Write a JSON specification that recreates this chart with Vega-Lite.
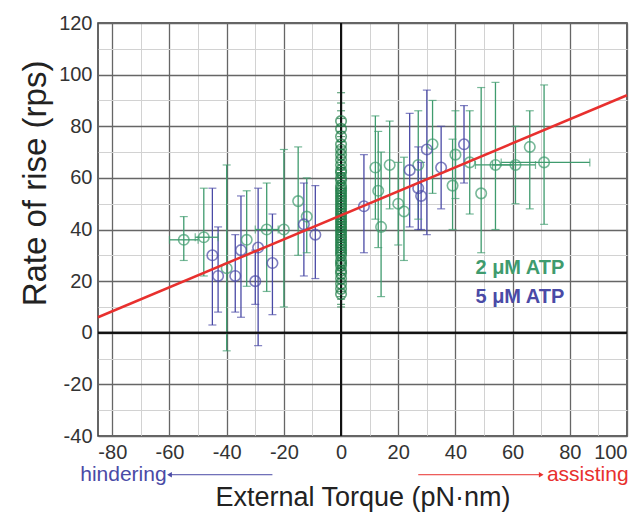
{
  "$schema": "https://vega.github.io/schema/vega-lite/v6.json",
  "width": 529,
  "height": 413,
  "autosize": "none",
  "padding": {"left": 98, "top": 23, "right": 16, "bottom": 80},
  "background": "white",
  "config": {
    "view": {"stroke": "#333333", "strokeWidth": 1.5},
    "axis": {
      "labelFont": "Liberation Sans",
      "labelFontSize": 20,
      "labelColor": "#333333",
      "titleFont": "Liberation Sans",
      "titleFontWeight": "normal",
      "titleColor": "#222222",
      "ticks": false,
      "domain": false,
      "gridOpacity": 1
    }
  },
  "datasets": {
    "pts": [
      {"s": "2 μM ATP", "x": -55, "y": 36, "ylo": 28, "yhi": 45, "xlo": -60, "xhi": -50},
      {"s": "2 μM ATP", "x": -48, "y": 37, "ylo": 22, "yhi": 56, "xlo": -51, "xhi": -43},
      {"s": "2 μM ATP", "x": -40, "y": 25, "ylo": -7, "yhi": 65},
      {"s": "2 μM ATP", "x": -33, "y": 36, "ylo": 18, "yhi": 55},
      {"s": "2 μM ATP", "x": -26, "y": 40, "ylo": 16, "yhi": 58, "xlo": -30, "xhi": -22},
      {"s": "2 μM ATP", "x": -20, "y": 40, "ylo": 10, "yhi": 71},
      {"s": "2 μM ATP", "x": -15, "y": 51, "ylo": 30, "yhi": 72},
      {"s": "2 μM ATP", "x": -12, "y": 45, "ylo": 31, "yhi": 60},
      {"s": "2 μM ATP", "x": 12, "y": 64, "ylo": 44, "yhi": 84},
      {"s": "2 μM ATP", "x": 13, "y": 55, "ylo": 33, "yhi": 78},
      {"s": "2 μM ATP", "x": 14, "y": 41, "ylo": 14, "yhi": 70},
      {"s": "2 μM ATP", "x": 17, "y": 65, "ylo": 48, "yhi": 82},
      {"s": "2 μM ATP", "x": 20, "y": 50, "ylo": 34, "yhi": 66},
      {"s": "2 μM ATP", "x": 22, "y": 47, "ylo": 28, "yhi": 68},
      {"s": "2 μM ATP", "x": 27, "y": 65, "ylo": 44, "yhi": 86},
      {"s": "2 μM ATP", "x": 32, "y": 73, "ylo": 54, "yhi": 90},
      {"s": "2 μM ATP", "x": 39, "y": 57, "ylo": 40, "yhi": 75},
      {"s": "2 μM ATP", "x": 40, "y": 69, "ylo": 52, "yhi": 86},
      {"s": "2 μM ATP", "x": 45, "y": 66, "ylo": 46, "yhi": 86},
      {"s": "2 μM ATP", "x": 49, "y": 54, "ylo": 31, "yhi": 95},
      {"s": "2 μM ATP", "x": 54, "y": 65, "ylo": 40, "yhi": 97, "xlo": 47, "xhi": 60},
      {"s": "2 μM ATP", "x": 61, "y": 65, "ylo": 50, "yhi": 80, "xlo": 53, "xhi": 68},
      {"s": "2 μM ATP", "x": 66, "y": 72, "ylo": 48, "yhi": 86},
      {"s": "2 μM ATP", "x": 71, "y": 66, "ylo": 42, "yhi": 96, "xlo": 56, "xhi": 87},
      {"s": "zero", "x": 0, "y": 15, "ylo": 10, "yhi": 21},
      {"s": "zero", "x": 0, "y": 17, "ylo": 11, "yhi": 23},
      {"s": "zero", "x": 0, "y": 19, "ylo": 13, "yhi": 26},
      {"s": "zero", "x": 0, "y": 21, "ylo": 14, "yhi": 28},
      {"s": "zero", "x": 0, "y": 23, "ylo": 16, "yhi": 30},
      {"s": "zero", "x": 0, "y": 24, "ylo": 17, "yhi": 31},
      {"s": "zero", "x": 0, "y": 26, "ylo": 19, "yhi": 33},
      {"s": "zero", "x": 0, "y": 27, "ylo": 20, "yhi": 35},
      {"s": "zero", "x": 0, "y": 28, "ylo": 21, "yhi": 36},
      {"s": "zero", "x": 0, "y": 30, "ylo": 23, "yhi": 38},
      {"s": "zero", "x": 0, "y": 31, "ylo": 24, "yhi": 39},
      {"s": "zero", "x": 0, "y": 32, "ylo": 25, "yhi": 40},
      {"s": "zero", "x": 0, "y": 33, "ylo": 25, "yhi": 41},
      {"s": "zero", "x": 0, "y": 34, "ylo": 26, "yhi": 42},
      {"s": "zero", "x": 0, "y": 35, "ylo": 27, "yhi": 43},
      {"s": "zero", "x": 0, "y": 36, "ylo": 28, "yhi": 44},
      {"s": "zero", "x": 0, "y": 37, "ylo": 29, "yhi": 45},
      {"s": "zero", "x": 0, "y": 38, "ylo": 30, "yhi": 46},
      {"s": "zero", "x": 0, "y": 39, "ylo": 31, "yhi": 48},
      {"s": "zero", "x": 0, "y": 40, "ylo": 32, "yhi": 49},
      {"s": "zero", "x": 0, "y": 41, "ylo": 33, "yhi": 50},
      {"s": "zero", "x": 0, "y": 42, "ylo": 34, "yhi": 51},
      {"s": "zero", "x": 0, "y": 43, "ylo": 35, "yhi": 52},
      {"s": "zero", "x": 0, "y": 44, "ylo": 36, "yhi": 53},
      {"s": "zero", "x": 0, "y": 45, "ylo": 37, "yhi": 54},
      {"s": "zero", "x": 0, "y": 46, "ylo": 38, "yhi": 55},
      {"s": "zero", "x": 0, "y": 47, "ylo": 39, "yhi": 56},
      {"s": "zero", "x": 0, "y": 48, "ylo": 40, "yhi": 57},
      {"s": "zero", "x": 0, "y": 49, "ylo": 40, "yhi": 58},
      {"s": "zero", "x": 0, "y": 50, "ylo": 41, "yhi": 59},
      {"s": "zero", "x": 0, "y": 51, "ylo": 42, "yhi": 60},
      {"s": "zero", "x": 0, "y": 52, "ylo": 43, "yhi": 61},
      {"s": "zero", "x": 0, "y": 53, "ylo": 44, "yhi": 62},
      {"s": "zero", "x": 0, "y": 54, "ylo": 45, "yhi": 63},
      {"s": "zero", "x": 0, "y": 55, "ylo": 46, "yhi": 64},
      {"s": "zero", "x": 0, "y": 56, "ylo": 47, "yhi": 65},
      {"s": "zero", "x": 0, "y": 57, "ylo": 48, "yhi": 66},
      {"s": "zero", "x": 0, "y": 59, "ylo": 50, "yhi": 68},
      {"s": "zero", "x": 0, "y": 60, "ylo": 51, "yhi": 69},
      {"s": "zero", "x": 0, "y": 62, "ylo": 53, "yhi": 71},
      {"s": "zero", "x": 0, "y": 63, "ylo": 54, "yhi": 72},
      {"s": "zero", "x": 0, "y": 65, "ylo": 56, "yhi": 74},
      {"s": "zero", "x": 0, "y": 67, "ylo": 58, "yhi": 76},
      {"s": "zero", "x": 0, "y": 69, "ylo": 60, "yhi": 78},
      {"s": "zero", "x": 0, "y": 71, "ylo": 62, "yhi": 80},
      {"s": "zero", "x": 0, "y": 73, "ylo": 64, "yhi": 83},
      {"s": "zero", "x": 0, "y": 76, "ylo": 67, "yhi": 86},
      {"s": "zero", "x": 0, "y": 79, "ylo": 70, "yhi": 89},
      {"s": "zero", "x": 0, "y": 82, "ylo": 74, "yhi": 93},
      {"s": "5 μM ATP", "x": -45, "y": 30, "ylo": 3, "yhi": 56},
      {"s": "5 μM ATP", "x": -43, "y": 22, "ylo": 8, "yhi": 41},
      {"s": "5 μM ATP", "x": -37, "y": 22, "ylo": 8, "yhi": 38},
      {"s": "5 μM ATP", "x": -35, "y": 32, "ylo": 6, "yhi": 53},
      {"s": "5 μM ATP", "x": -29, "y": 33, "ylo": -5, "yhi": 56},
      {"s": "5 μM ATP", "x": -30, "y": 20, "ylo": 11, "yhi": 32},
      {"s": "5 μM ATP", "x": -24, "y": 27, "ylo": 7, "yhi": 46},
      {"s": "5 μM ATP", "x": -13, "y": 42, "ylo": 22, "yhi": 58},
      {"s": "5 μM ATP", "x": -9, "y": 38, "ylo": 21, "yhi": 57},
      {"s": "5 μM ATP", "x": 8, "y": 49, "ylo": 31, "yhi": 69},
      {"s": "5 μM ATP", "x": 24, "y": 63, "ylo": 41, "yhi": 85},
      {"s": "5 μM ATP", "x": 27, "y": 56, "ylo": 40, "yhi": 72},
      {"s": "5 μM ATP", "x": 28, "y": 53, "ylo": 40, "yhi": 66},
      {"s": "5 μM ATP", "x": 30, "y": 71, "ylo": 38, "yhi": 94},
      {"s": "5 μM ATP", "x": 35, "y": 64, "ylo": 48, "yhi": 80},
      {"s": "5 μM ATP", "x": 43, "y": 73, "ylo": 58, "yhi": 88}
    ],
    "fit": [{"x": -85, "y": 6}, {"x": 100, "y": 92}]
  },
  "resolve": {"axis": {"x": "independent", "y": "independent"}},
  "layer": [
    {
      "data": {"values": [{"x": 0}]},
      "mark": {"type": "rule", "color": "#111111", "strokeWidth": 2},
      "encoding": {"x": {"field": "x", "type": "quantitative", "scale": {"domain": [-85, 100], "nice": false, "zero": false},
        "axis": {"orient": "bottom", "grid": true, "values": [-70, -50, -30, -10, 10, 30, 50, 70, 90], "labels": false, "title": null,
          "gridColor": "#d2d2d2", "gridWidth": 1}}}
    },
    {
      "data": {"values": [{"y": 0}]},
      "mark": {"type": "rule", "color": "#111111", "strokeWidth": 2},
      "encoding": {"y": {"field": "y", "type": "quantitative", "scale": {"domain": [-40, 120], "nice": false, "zero": false},
        "axis": {"orient": "left", "grid": true, "values": [-30, -10, 10, 30, 50, 70, 90, 110], "labels": false, "title": null,
          "gridColor": "#d2d2d2", "gridWidth": 1}}}
    },
    {
      "data": {"name": "pts"},
      "mark": {"type": "rule", "strokeWidth": 1.3},
      "encoding": {
        "x": {"field": "x", "type": "quantitative", "scale": {"domain": [-85, 100], "nice": false, "zero": false},
          "axis": {"orient": "bottom", "grid": true, "values": [-80, -60, -40, -20, 0, 20, 40, 60, 80, 100], "labelPadding": 6,
            "labelExpr": "toString(datum.value)",
            "gridColor": "#666666", "gridWidth": 1.3,
            "title": "External Torque (pN·nm)", "titleFontSize": 27, "titlePadding": 22}},
        "y": {"field": "ylo", "type": "quantitative", "scale": {"domain": [-40, 120], "nice": false, "zero": false},
          "axis": {"orient": "left", "grid": true, "values": [-40, -20, 0, 20, 40, 60, 80, 100, 120], "labelPadding": 6,
            "labelExpr": "toString(datum.value)",
            "gridColor": "#666666", "gridWidth": 1.3,
            "title": "Rate of rise (rps)", "titleFontSize": 33, "titlePadding": 6, "titleY": 160}},
        "y2": {"field": "yhi"},
        "color": {"field": "s", "type": "nominal", "scale": {"domain": ["2 μM ATP", "5 μM ATP", "zero"], "range": ["#3f9b6e", "#4a4aa6", "#1f7d47"]}, "legend": null}
      }
    },
    {
      "data": {"name": "pts"},
      "mark": {"type": "tick", "orient": "horizontal", "size": 8, "thickness": 1.2},
      "encoding": {
        "x": {"field": "x", "type": "quantitative", "axis": null},
        "y": {"field": "ylo", "type": "quantitative", "axis": null},
        "color": {"field": "s", "type": "nominal", "legend": null}
      }
    },
    {
      "data": {"name": "pts"},
      "mark": {"type": "tick", "orient": "horizontal", "size": 8, "thickness": 1.2},
      "encoding": {
        "x": {"field": "x", "type": "quantitative", "axis": null},
        "y": {"field": "yhi", "type": "quantitative", "axis": null},
        "color": {"field": "s", "type": "nominal", "legend": null}
      }
    },
    {
      "data": {"name": "pts"},
      "transform": [{"filter": "isValid(datum.xlo)"}],
      "mark": {"type": "rule", "strokeWidth": 1.3},
      "encoding": {
        "x": {"field": "xlo", "type": "quantitative", "axis": null},
        "x2": {"field": "xhi"},
        "y": {"field": "y", "type": "quantitative", "axis": null},
        "color": {"field": "s", "type": "nominal", "legend": null}
      }
    },
    {
      "data": {"name": "pts"},
      "transform": [{"filter": "isValid(datum.xlo)"}],
      "mark": {"type": "tick", "orient": "vertical", "size": 8, "thickness": 1.2},
      "encoding": {
        "x": {"field": "xlo", "type": "quantitative", "axis": null},
        "y": {"field": "y", "type": "quantitative", "axis": null},
        "color": {"field": "s", "type": "nominal", "legend": null}
      }
    },
    {
      "data": {"name": "pts"},
      "transform": [{"filter": "isValid(datum.xhi)"}],
      "mark": {"type": "tick", "orient": "vertical", "size": 8, "thickness": 1.2},
      "encoding": {
        "x": {"field": "xhi", "type": "quantitative", "axis": null},
        "y": {"field": "y", "type": "quantitative", "axis": null},
        "color": {"field": "s", "type": "nominal", "legend": null}
      }
    },
    {
      "data": {"values": [{"x": 0}]},
      "mark": {"type": "rule", "color": "#111111", "strokeWidth": 2},
      "encoding": {"x": {"field": "x", "type": "quantitative", "axis": null}}
    },
    {
      "data": {"values": [{"y": 0}]},
      "mark": {"type": "rule", "color": "#111111", "strokeWidth": 2},
      "encoding": {"y": {"field": "y", "type": "quantitative", "axis": null}}
    },
    {
      "data": {"name": "pts"},
      "mark": {"type": "point", "shape": "circle", "filled": false, "size": 110, "strokeWidth": 1.6},
      "encoding": {
        "x": {"field": "x", "type": "quantitative", "axis": null},
        "y": {"field": "y", "type": "quantitative", "axis": null},
        "color": {"field": "s", "type": "nominal", "legend": null}
      }
    },
    {
      "data": {"name": "fit"},
      "mark": {"type": "line", "color": "#e8302e", "strokeWidth": 2.5},
      "encoding": {
        "x": {"field": "x", "type": "quantitative", "axis": null},
        "y": {"field": "y", "type": "quantitative", "axis": null}
      }
    },
    {
      "data": {"values": [{"t": "2 μM ATP", "x": 47, "y": 25, "c": "2 μM ATP"}, {"t": "5 μM ATP", "x": 47, "y": 14, "c": "5 μM ATP"}]},
      "mark": {"type": "text", "align": "left", "baseline": "middle", "font": "Liberation Sans", "fontSize": 20, "fontWeight": "bold"},
      "encoding": {
        "x": {"field": "x", "type": "quantitative", "axis": null},
        "y": {"field": "y", "type": "quantitative", "axis": null},
        "text": {"field": "t"},
        "color": {"field": "c", "type": "nominal", "legend": null}
      }
    },
    {
      "data": {"values": [{"t": "hindering", "x": -61, "y": -55}]},
      "mark": {"type": "text", "align": "right", "baseline": "middle", "font": "Liberation Sans", "fontSize": 21, "color": "#4a4aa6"},
      "encoding": {
        "x": {"field": "x", "type": "quantitative", "axis": null},
        "y": {"field": "y", "type": "quantitative", "axis": null},
        "text": {"field": "t"}
      }
    },
    {
      "data": {"values": [{"t": "assisting", "x": 72, "y": -55}]},
      "mark": {"type": "text", "align": "left", "baseline": "middle", "font": "Liberation Sans", "fontSize": 21, "color": "#e8302e"},
      "encoding": {
        "x": {"field": "x", "type": "quantitative", "axis": null},
        "y": {"field": "y", "type": "quantitative", "axis": null},
        "text": {"field": "t"}
      }
    },
    {
      "data": {"values": [{"x": -60, "x2": -24, "y": -55}]},
      "mark": {"type": "rule", "color": "#4a4aa6", "strokeWidth": 1},
      "encoding": {
        "x": {"field": "x", "type": "quantitative", "axis": null},
        "x2": {"field": "x2"},
        "y": {"field": "y", "type": "quantitative", "axis": null}
      }
    },
    {
      "data": {"values": [{"x": -60, "y": -55}]},
      "mark": {"type": "point", "shape": "triangle-left", "filled": true, "size": 30, "color": "#4a4aa6", "opacity": 1},
      "encoding": {
        "x": {"field": "x", "type": "quantitative", "axis": null},
        "y": {"field": "y", "type": "quantitative", "axis": null}
      }
    },
    {
      "data": {"values": [{"x": 27, "x2": 70, "y": -55}]},
      "mark": {"type": "rule", "color": "#e8302e", "strokeWidth": 1},
      "encoding": {
        "x": {"field": "x", "type": "quantitative", "axis": null},
        "x2": {"field": "x2"},
        "y": {"field": "y", "type": "quantitative", "axis": null}
      }
    },
    {
      "data": {"values": [{"x": 70, "y": -55}]},
      "mark": {"type": "point", "shape": "triangle-right", "filled": true, "size": 30, "color": "#e8302e", "opacity": 1},
      "encoding": {
        "x": {"field": "x", "type": "quantitative", "axis": null},
        "y": {"field": "y", "type": "quantitative", "axis": null}
      }
    }
  ]
}
